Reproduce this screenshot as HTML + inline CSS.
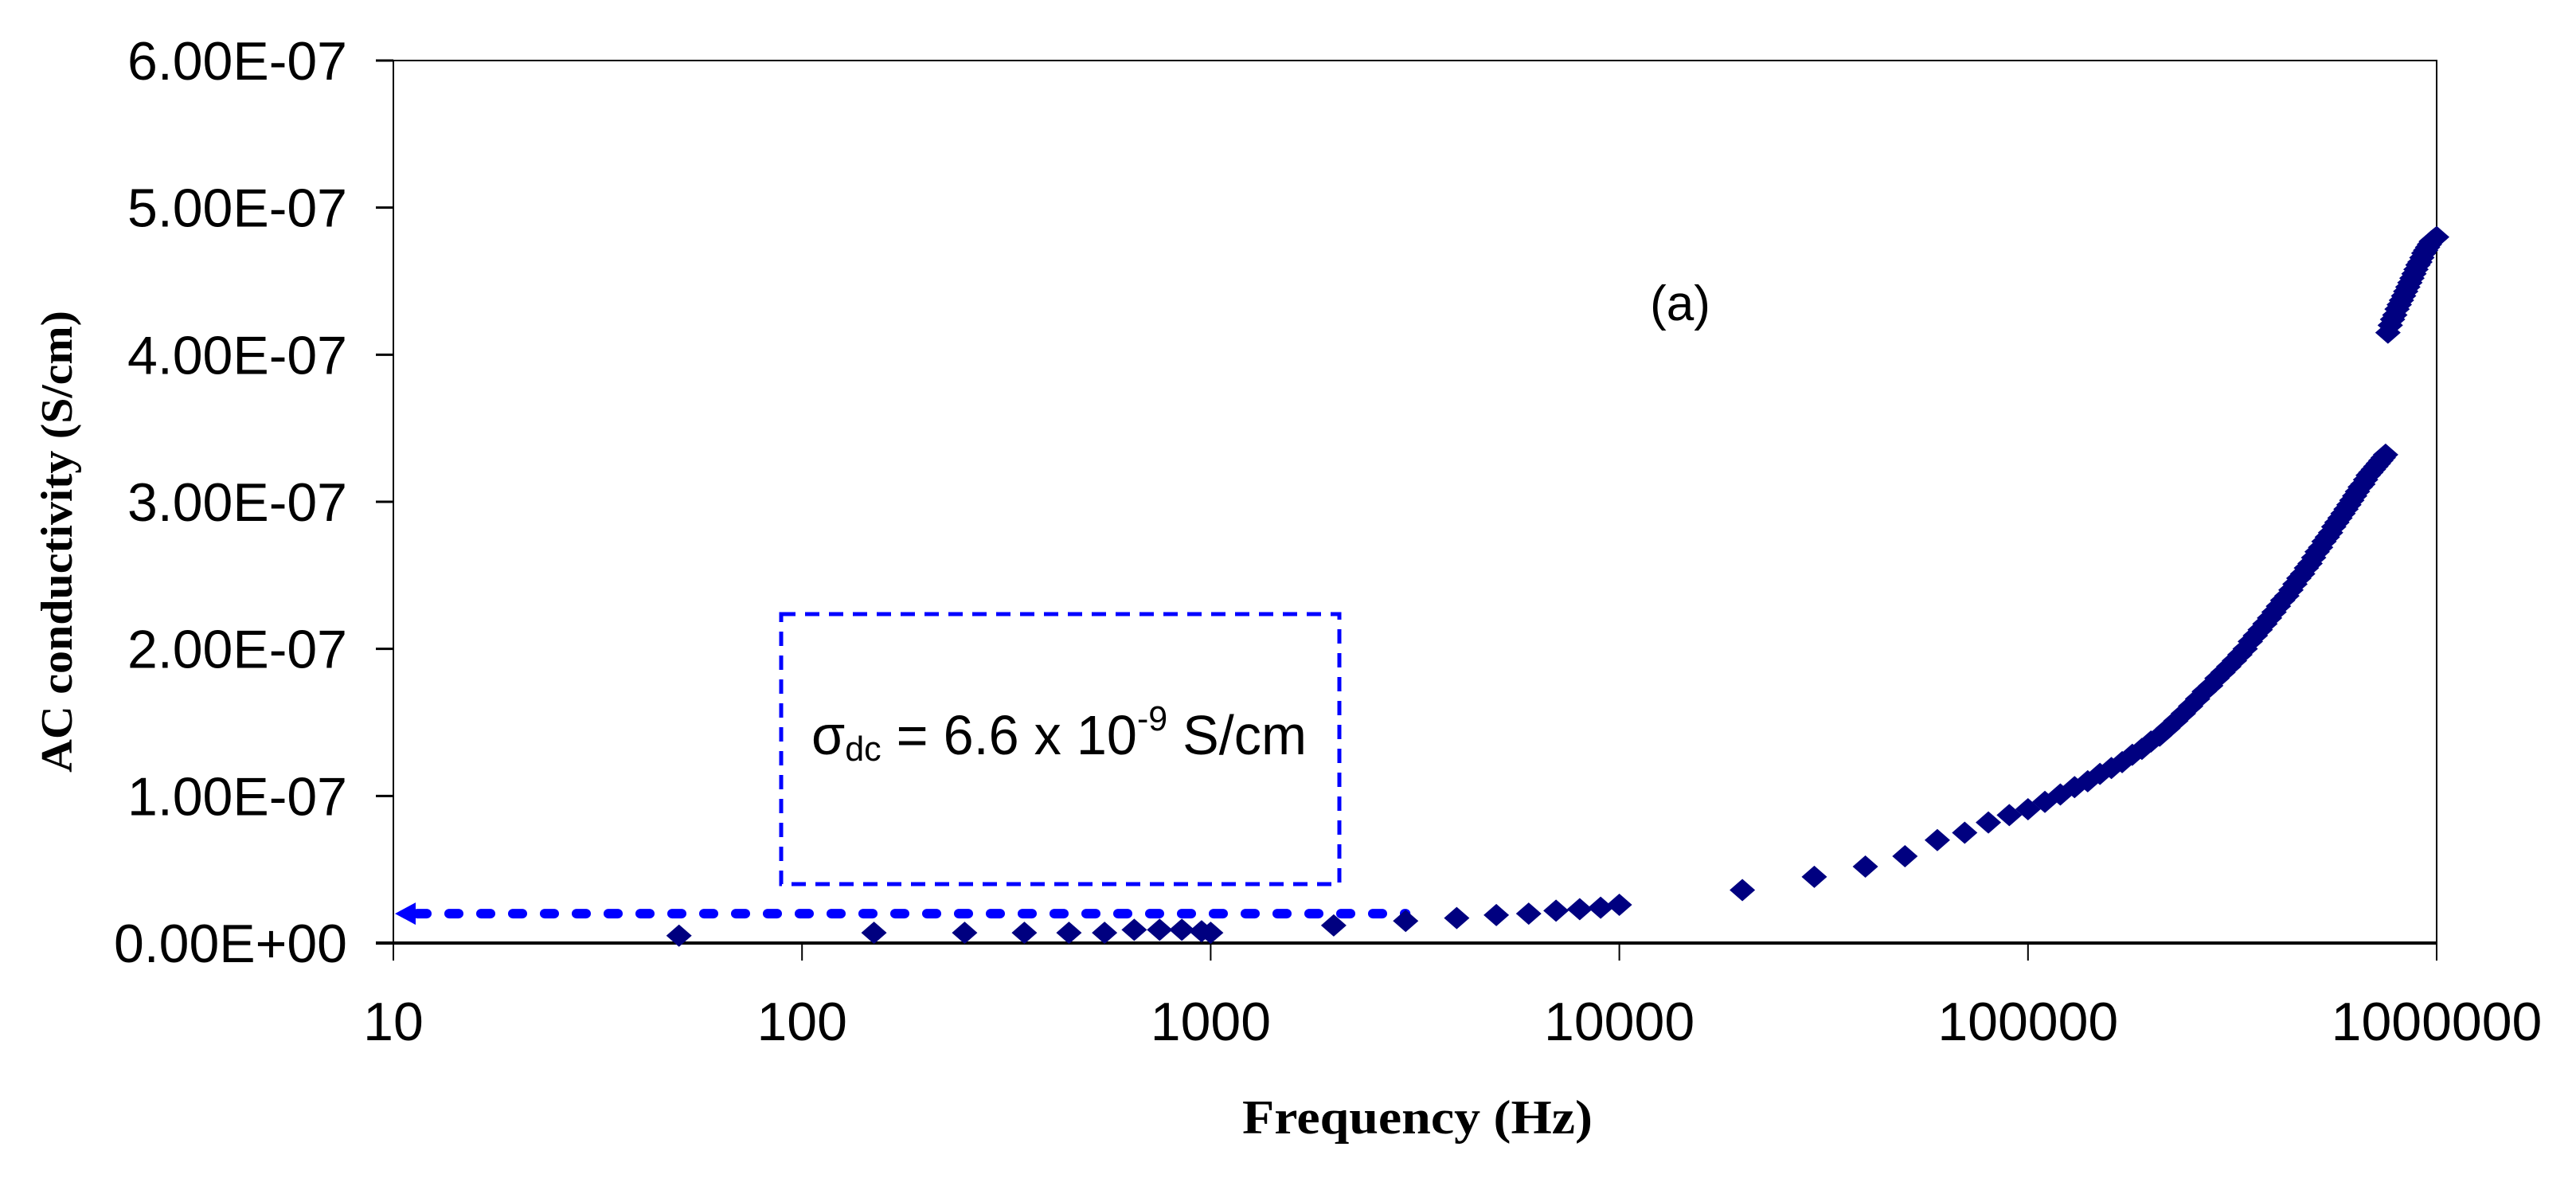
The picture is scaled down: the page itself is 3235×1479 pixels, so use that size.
<!DOCTYPE html>
<html><head><meta charset="utf-8"><style>
html,body{margin:0;padding:0;background:#fff;}
svg{display:block;}
</style></head><body>
<svg id="chart" width="3235" height="1479" viewBox="0 0 3235 1479" xmlns="http://www.w3.org/2000/svg">
<rect x="0" y="0" width="3235" height="1479" fill="#fff"/>
<g id="axes"></g>
<g id="marks"></g>
<g>
  <rect x="981" y="771" width="701" height="339" fill="none" stroke="#0000ff" stroke-width="5" stroke-dasharray="18,12"/>
  <text x="1019" y="947" font-family="Liberation Sans, sans-serif" font-size="70" fill="#000" textLength="622" lengthAdjust="spacingAndGlyphs">σ<tspan font-size="44" dy="8">dc</tspan><tspan dy="-8"> = 6.6 x 10</tspan><tspan font-size="44" dy="-30">-9</tspan><tspan dy="30"> S/cm</tspan></text>
</g>
<text x="2110" y="402" text-anchor="middle" font-family="Liberation Sans, sans-serif" font-size="62" fill="#000">(a)</text>
<text x="1780" y="1423" text-anchor="middle" font-family="Liberation Serif, serif" font-weight="bold" font-size="60" fill="#000" textLength="440" lengthAdjust="spacingAndGlyphs">Frequency (Hz)</text>
<text transform="translate(90,680) rotate(-90)" text-anchor="middle" font-family="Liberation Serif, serif" font-weight="bold" font-size="56" fill="#000" textLength="580" lengthAdjust="spacingAndGlyphs">AC conductivity (S/cm)</text>
</svg>
<script>
const freq = [50,150,250,350,450,550,650,750,850,950,1000,2000,3000,4000,5000,6000,7000,8000,9000,10000,20000,30000,40000,50000,60000,70000,80000,90000,
100000,110000,120000,130000,140000,150000,160000,170000,180000,190000,200000,210000,220000,230000,240000,250000,260000,270000,280000,290000,300000,
310000,320000,330000,340000,350000,360000,370000,380000,390000,400000,410000,420000,430000,440000,450000,460000,470000,480000,490000,500000,
510000,520000,530000,540000,550000,560000,570000,580000,590000,600000,610000,620000,630000,640000,650000,660000,670000,680000,690000,700000,
710000,720000,730000,740000,750000,
760000,770000,780000,790000,800000,810000,820000,830000,840000,850000,860000,870000,880000,890000,900000,910000,920000,930000,940000,950000,960000,970000,980000,990000,1000000];
const condE7 = [0.05,0.07,0.07,0.07,0.07,0.07,0.09,0.09,0.09,0.08,0.07,0.12,0.15,0.17,0.19,0.20,0.22,0.23,0.24,0.26,0.36,0.45,0.52,0.59,0.70,0.75,0.82,0.87,
0.91,0.96,1.01,1.06,1.10,1.15,1.19,1.23,1.28,1.32,1.37,1.41,1.46,1.51,1.56,1.61,1.66,1.71,1.75,1.80,1.84,
1.88,1.92,1.96,2.00,2.05,2.09,2.13,2.17,2.21,2.25,2.29,2.33,2.36,2.40,2.44,2.48,2.51,2.55,2.58,2.62,
2.66,2.69,2.73,2.76,2.79,2.83,2.86,2.89,2.92,2.95,2.98,3.01,3.04,3.07,3.10,3.12,3.15,3.18,3.20,3.22,
3.24,3.26,3.28,3.30,3.32,
4.15,4.20,4.24,4.27,4.31,4.34,4.37,4.40,4.43,4.46,4.49,4.52,4.55,4.58,4.61,4.63,4.66,4.69,4.71,4.73,4.75,4.77,4.78,4.79,4.80];
const yTicks = [0,1,2,3,4,5,6];
const yTickLabels = ["0.00E+00","1.00E-07","2.00E-07","3.00E-07","4.00E-07","5.00E-07","6.00E-07"];
const xTicks = [10,100,1000,10000,100000,1000000];
const xTickLabels = ["10","100","1000","10000","100000","1000000"];
const sigmaDcFreqRange = [10,3000];
const sigmaDcE7 = 0.20;

const L=494,R=3060,T=76,B=1184;
const NS="http://www.w3.org/2000/svg";
function xs(f){return L+(Math.log10(f)-1)/5*(R-L);}
function ys(v){return B-v/6*(B-T);}
function mk(tag,attrs,parent){const e=document.createElementNS(NS,tag);for(const k in attrs)e.setAttribute(k,attrs[k]);parent.appendChild(e);return e;}
const axes=document.getElementById('axes');
const frame=mk('rect',{x:L,y:T,width:R-L,height:B-T,fill:'none',stroke:'#000','stroke-width':2},axes);


const xline=mk('line',{x1:L-22,y1:B,x2:R,y2:B,stroke:'#000','stroke-width':4},axes);


yTicks.forEach((v,i)=>{
  const y=ys(v);
  const t=mk('line',{x1:L-22,y1:y,x2:L,y2:y,stroke:'#000','stroke-width':3},axes);
  
  
  const lb=mk('text',{x:436,y:y+24,'text-anchor':'end','font-family':'Liberation Sans, sans-serif','font-size':68,fill:'#000'},axes);
  lb.textContent=yTickLabels[i];
  
  
});
xTicks.forEach((f,i)=>{
  const x=xs(f);
  const t=mk('line',{x1:x,y1:B,x2:x,y2:B+22,stroke:'#000','stroke-width':2},axes);
  
  
  const lb=mk('text',{x:x,y:1306,'text-anchor':'middle','font-family':'Liberation Sans, sans-serif','font-size':68,fill:'#000'},axes);
  lb.textContent=xTickLabels[i];
  
  
});
const marks=document.getElementById('marks');
const ay=ys(sigmaDcE7);
const al=mk('line',{x1:xs(sigmaDcFreqRange[0])+30,y1:ay,x2:xs(sigmaDcFreqRange[1]),y2:ay,stroke:'#0000ff','stroke-width':12,'stroke-linecap':'round','stroke-dasharray':'12,28'},marks);


const ah=mk('path',{d:`M${xs(sigmaDcFreqRange[0])+2},${ay} l26,-14 l0,28 z`,fill:'#0000ff'},marks);


freq.forEach((f,i)=>{
  const x=xs(f),y=ys(condE7[i]);
  const p=mk('path',{d:`M${x},${y-14} L${x+16},${y} L${x},${y+14} L${x-16},${y} Z`,fill:'#000080'},marks);
  
  
});
</script>
</body></html>
